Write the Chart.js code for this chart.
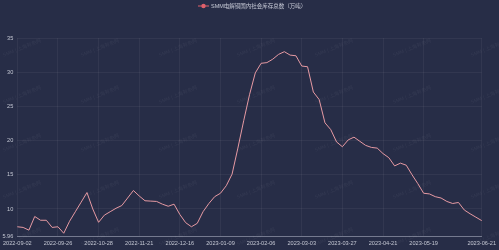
<!DOCTYPE html>
<html>
<head>
<meta charset="utf-8">
<script src="https://cdn.jsdelivr.net/npm/chart.js@4/dist/chart.umd.min.js"></script>
<style>
  html, body { margin:0; padding:0; background:#272d47; }
  canvas { display:block; }
</style>
</head>
<body>
<canvas id="invChart" width="499" height="250"></canvas>
<script>
/* SMM copper social inventory line chart */

const seriesName = 'SMM电解铜国内社会库存总数（万吨）';
const tickLabels = ['2022-09-02','2022-09-26','2022-10-28','2022-11-21','2022-12-16','2023-01-09',
                    '2023-02-06','2023-03-03','2023-03-27','2023-04-21','2023-05-19','2023-06-21'];
const tickIndex = [0,7,14,21,28,35,42,49,56,63,70,80];
const yTicks = [5.96,10,15,20,25,30,35];
const inventory = [
  7.4, 7.3, 6.9, 8.9, 8.35, 8.35, 7.3, 7.4, 6.45, 8.2,
  9.6, 11.0, 12.4, 10.0, 8.05, 9.1, 9.6, 10.1, 10.5, 11.6,
  12.7, 11.9, 11.2, 11.15, 11.1, 10.7, 10.4, 10.7, 9.2, 8.0,
  7.4, 7.9, 9.6, 10.8, 11.8, 12.3, 13.4, 15.1, 18.9, 22.9,
  26.7, 29.9, 31.3, 31.4, 31.9, 32.6, 33.0, 32.5, 32.4, 30.9,
  30.8, 27.1, 26.0, 22.6, 21.6, 19.8, 19.1, 20.1, 20.5, 19.9,
  19.3, 19.0, 18.9, 18.1, 17.5, 16.3, 16.7, 16.4, 15.0, 13.7,
  12.3, 12.2, 11.8, 11.6, 11.1, 10.8, 10.95, 9.85, 9.3, 8.8,
  8.3
];

const labels = inventory.map((v, i) => {
  const k = tickIndex.indexOf(i);
  return k >= 0 ? tickLabels[k] : '';
});

const FONT = "'Liberation Sans', 'Noto Sans CJK SC', sans-serif";
const lineColor = '#e69aa3';

// background + faint watermark
const bgPlugin = {
  id: 'bg',
  beforeDraw(chart) {
    const c = chart.ctx;
    c.save();
    c.fillStyle = '#272d47';
    c.fillRect(0, 0, chart.width, chart.height);
    c.restore();
  },
  beforeDatasetsDraw(chart) {
    const c = chart.ctx;
    c.save();
    c.fillStyle = 'rgba(255,255,255,0.06)';
    c.font = '5px ' + FONT;
    c.textAlign = 'center';
    c.textBaseline = 'middle';
    [22,100,178,256,334,412,490].forEach(x => {
      [48,95,143,190,237].forEach(y => {
        c.save();
        c.translate(x, y);
        c.rotate(-0.38);
        c.fillText('SMM | 上海有色网', 0, 0);
        c.restore();
      });
    });
    c.restore();
  },
  afterDraw(chart) {
    // legend: line + dot + name
    const c = chart.ctx;
    c.save();
    c.strokeStyle = '#e0606b';
    c.lineWidth = 1;
    c.beginPath();
    c.moveTo(198, 6); c.lineTo(209, 6);
    c.stroke();
    c.fillStyle = '#e0606b';
    c.beginPath();
    c.arc(203.5, 6, 2.2, 0, Math.PI * 2);
    c.fill();
    c.fillStyle = '#c9ccd8';
    c.font = '5.5px ' + FONT;
    c.textBaseline = 'middle';
    c.fillText(seriesName, 211, 6.3);
    c.restore();
  }
};

new Chart(document.getElementById('invChart'), {
  type: 'line',
  data: {
    labels: labels,
    datasets: [{
      label: seriesName,
      data: inventory,
      borderColor: lineColor,
      borderWidth: 1,
      pointRadius: 0,
      tension: 0,
      fill: false
    }]
  },
  options: {
    responsive: false,
    animation: false,
    devicePixelRatio: 1,
    layout: { padding: { top: 38, right: 14.5, bottom: 0, left: 0 } },
    plugins: { legend: { display: false }, tooltip: { enabled: false } },
    scales: {
      x: {
        offset: false,
        afterFit: s => { s.height = 13.4; },
        afterBuildTicks: s => { s.ticks = tickIndex.map(v => ({ value: v })); },
        grid: { color: 'rgba(255,255,255,0.05)', drawTicks: false },
        border: { color: 'rgba(200,205,220,0.45)', width: 1 },
        ticks: {
          autoSkip: false, maxRotation: 0, padding: 3,
          color: '#c4c7d3', font: { family: FONT, size: 5.6 },
          callback: function(v) { return this.getLabelForValue(v); }
        }
      },
      y: {
        min: 5.96, max: 35,
        afterFit: s => { s.width = 16.5; },
        afterBuildTicks: s => { s.ticks = yTicks.map(v => ({ value: v })); },
        grid: { color: 'rgba(255,255,255,0.05)', drawTicks: false },
        border: { display: false },
        ticks: {
          padding: 4, color: '#c4c7d3', font: { family: FONT, size: 5.6 },
          callback: v => String(v)
        }
      }
    }
  },
  plugins: [bgPlugin]
});
</script>
</body>
</html>
